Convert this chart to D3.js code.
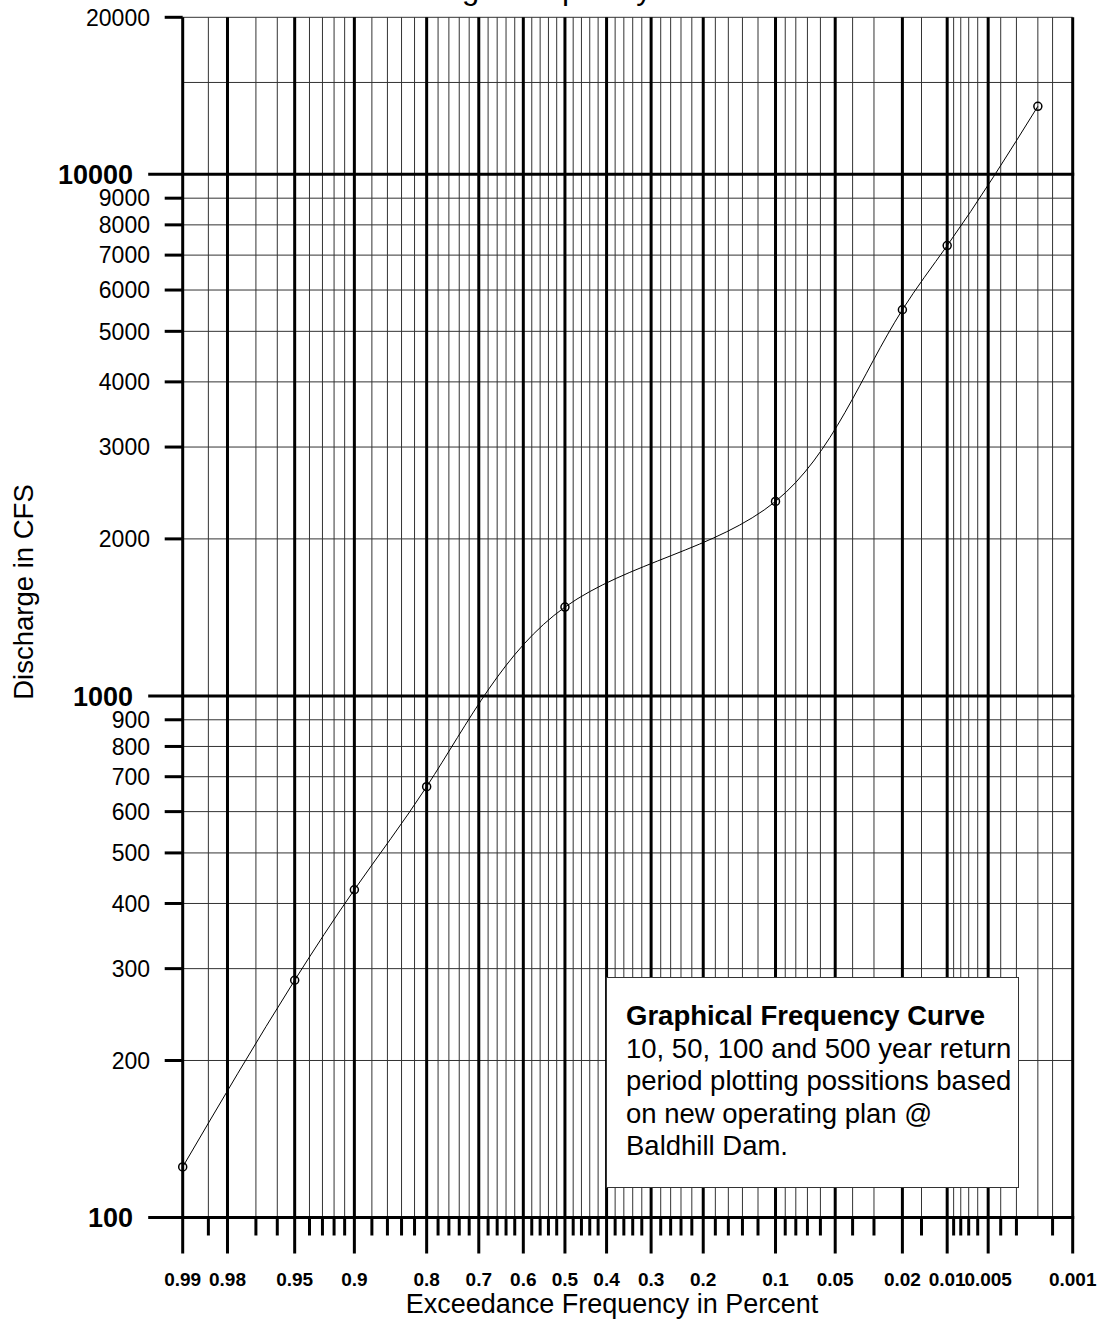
<!DOCTYPE html>
<html>
<head>
<meta charset="utf-8">
<script src="https://cdn.jsdelivr.net/npm/d3@7"></script>
<style>
  body { margin: 0; background: #fff; }
  svg { display: block; font-family: Arial, "Liberation Sans", sans-serif; }
</style>
</head>
<body>
<svg id="chart" width="1101" height="1319"></svg>
<script>
// Plotting positions (exceedance probability) and discharge (cfs)
const exceedance = [0.99, 0.95, 0.9, 0.8, 0.5, 0.1, 0.02, 0.01, 0.002];
const discharge  = [125, 285, 425, 670, 1480, 2360, 5500, 7300, 13500];

// Probability axis: labelled ticks, minor ticks, extra grid lines
const xMajorTicks = [0.99, 0.98, 0.95, 0.9, 0.8, 0.7, 0.6, 0.5, 0.4, 0.3, 0.2, 0.1, 0.05, 0.02, 0.01, 0.005, 0.001];
const xMajorLabels = ["0.99", "0.98", "0.95", "0.9", "0.8", "0.7", "0.6", "0.5", "0.4", "0.3", "0.2", "0.1", "0.05", "0.02", "0.01", "0.005", "0.001"];
const xMinorTicks = [0.985, 0.97, 0.96, 0.94, 0.93, 0.92, 0.91, 0.88, 0.86, 0.84, 0.82,
  0.78, 0.76, 0.74, 0.72, 0.68, 0.66, 0.64, 0.62, 0.58, 0.56, 0.54, 0.52,
  0.48, 0.46, 0.44, 0.42, 0.38, 0.36, 0.34, 0.32, 0.28, 0.26, 0.24, 0.22,
  0.18, 0.16, 0.14, 0.12, 0.09, 0.08, 0.07, 0.06, 0.04, 0.03, 0.015,
  0.009, 0.008, 0.007, 0.006, 0.004, 0.003, 0.0015];
const xExtraGrid = [0.002];

// Discharge axis
const yMajorTicks = [100, 1000, 10000];
const yMajorLabels = ["100", "1000", "10000"];
const yMinorTicks = [200, 300, 400, 500, 600, 700, 800, 900, 2000, 3000, 4000, 5000, 6000, 7000, 8000, 9000, 20000];
const yMinorLabels = ["200", "300", "400", "500", "600", "700", "800", "900", "2000", "3000", "4000", "5000", "6000", "7000", "8000", "9000", "20000"];
const yExtraGrid = [15000];

const titleText = "Discharge Frequency Curve";
const xTitle = "Exceedance Frequency in Percent";
const yTitle = "Discharge in CFS";
const noteTitle = "Graphical Frequency Curve";
const noteLines = ["10, 50, 100 and 500 year return", "period plotting possitions based", "on new operating plan @", "Baldhill Dam."];

// Inverse standard normal CDF (Acklam's rational approximation)
function probit(p) {
  const a = [-3.969683028665376e+01, 2.209460984245205e+02, -2.759285104469687e+02, 1.383577518672690e+02, -3.066479806614716e+01, 2.506628277459239e+00];
  const b = [-5.447609879822406e+01, 1.615858368580409e+02, -1.556989798598866e+02, 6.680131188771972e+01, -1.328068155288572e+01];
  const c = [-7.784894002430293e-03, -3.223964580411365e-01, -2.400758277161838e+00, -2.549732539343734e+00, 4.374664141464968e+00, 2.938163982698783e+00];
  const d = [7.784695709041462e-03, 3.224671290700398e-01, 2.445134137142996e+00, 3.754408661907416e+00];
  const pl = 0.02425, ph = 1 - pl;
  let q, r;
  if (p < pl) {
    q = Math.sqrt(-2 * Math.log(p));
    return (((((c[0]*q+c[1])*q+c[2])*q+c[3])*q+c[4])*q+c[5]) / ((((d[0]*q+d[1])*q+d[2])*q+d[3])*q+1);
  } else if (p <= ph) {
    q = p - 0.5; r = q * q;
    return (((((a[0]*r+a[1])*r+a[2])*r+a[3])*r+a[4])*r+a[5])*q / (((((b[0]*r+b[1])*r+b[2])*r+b[3])*r+b[4])*r+1);
  } else {
    q = Math.sqrt(-2 * Math.log(1 - p));
    return -(((((c[0]*q+c[1])*q+c[2])*q+c[3])*q+c[4])*q+c[5]) / ((((d[0]*q+d[1])*q+d[2])*q+d[3])*q+1);
  }
}

// Parametric natural cubic spline with chord-length knots, as a d3 curve factory
function naturalSecondDerivs(p, h) {
  const n = p.length, M = new Array(n).fill(0);
  if (n < 3) return M;
  const m = n - 2, cp = new Array(m), dp = new Array(m);
  for (let k = 0; k < m; k++) {
    const i = k + 1;
    const a = h[i - 1], b = 2 * (h[i - 1] + h[i]), c = h[i];
    const r = 6 * ((p[i + 1] - p[i]) / h[i] - (p[i] - p[i - 1]) / h[i - 1]);
    const den = k === 0 ? b : b - a * cp[k - 1];
    cp[k] = c / den;
    dp[k] = k === 0 ? r / den : (r - a * dp[k - 1]) / den;
  }
  M[m] = dp[m - 1];
  for (let k = m - 2; k >= 0; k--) M[k + 1] = dp[k] - cp[k] * M[k + 2];
  return M;
}

function ChordNatural(context) { this._context = context; }
ChordNatural.prototype = {
  areaStart() { this._line = 0; },
  areaEnd() { this._line = NaN; },
  lineStart() { this._x = []; this._y = []; },
  point(px, py) { this._x.push(+px); this._y.push(+py); },
  lineEnd() {
    const xs = this._x, ys = this._y, n = xs.length, ctx = this._context;
    if (!n) return;
    ctx.moveTo(xs[0], ys[0]);
    if (n === 2) { ctx.lineTo(xs[1], ys[1]); return; }
    const h = [];
    for (let i = 0; i < n - 1; i++) h.push(Math.hypot(xs[i + 1] - xs[i], ys[i + 1] - ys[i]) || 1e-6);
    const Mx = naturalSecondDerivs(xs, h), My = naturalSecondDerivs(ys, h);
    for (let i = 0; i < n - 1; i++) {
      const sx = (xs[i + 1] - xs[i]) / h[i], sy = (ys[i + 1] - ys[i]) / h[i];
      const d0x = sx - h[i] * (2 * Mx[i] + Mx[i + 1]) / 6, d0y = sy - h[i] * (2 * My[i] + My[i + 1]) / 6;
      const d1x = sx + h[i] * (Mx[i] + 2 * Mx[i + 1]) / 6, d1y = sy + h[i] * (My[i] + 2 * My[i + 1]) / 6;
      ctx.bezierCurveTo(
        xs[i] + d0x * h[i] / 3, ys[i] + d0y * h[i] / 3,
        xs[i + 1] - d1x * h[i] / 3, ys[i + 1] - d1y * h[i] / 3,
        xs[i + 1], ys[i + 1]);
    }
  }
};
const curveChordNatural = context => new ChordNatural(context);

const plotLeft = 182.7, plotRight = 1072.7, plotTop = 17.3, plotBottom = 1217.5;

// normal-probability scale: linear in the standard normal deviate of non-exceedance
const zScale = d3.scaleLinear().domain([probit(1 - 0.99), probit(1 - 0.001)]).range([plotLeft, plotRight]);
const x = p => zScale(probit(1 - p));
const y = d3.scaleLog().domain([100, 20000]).range([plotBottom, plotTop]);

const svg = d3.select("#chart");

// title (sits above the frame)
svg.append("text")
  .attr("x", 550).attr("y", -1)
  .attr("text-anchor", "middle")
  .attr("font-size", 31)
  .text(titleText);

const grid = svg.append("g");

// horizontal grid
grid.append("g").selectAll("line")
  .data(yMinorTicks.concat(yExtraGrid))
  .join("line")
  .attr("x1", plotLeft).attr("x2", plotRight)
  .attr("y1", d => y(d)).attr("y2", d => y(d))
  .attr("stroke", "#333").attr("stroke-width", 1);

// vertical grid
grid.append("g").selectAll("line")
  .data(xMinorTicks.concat(xExtraGrid))
  .join("line")
  .attr("x1", d => x(d)).attr("x2", d => x(d))
  .attr("y1", plotTop).attr("y2", plotBottom)
  .attr("stroke", "#333").attr("stroke-width", 1);

grid.append("g").selectAll("line")
  .data(xMajorTicks)
  .join("line")
  .attr("x1", d => x(d)).attr("x2", d => x(d))
  .attr("y1", plotTop).attr("y2", plotBottom + 36)
  .attr("stroke", "#000").attr("stroke-width", 3);

// bold decade lines with their outer ticks
grid.append("g").selectAll("line")
  .data(yMajorTicks)
  .join("line")
  .attr("x1", plotLeft - 34.5).attr("x2", plotRight + 1.5)
  .attr("y1", d => y(d)).attr("y2", d => y(d))
  .attr("stroke", "#000").attr("stroke-width", 3);

// minor outer ticks
svg.append("g").selectAll("line")
  .data(yMinorTicks)
  .join("line")
  .attr("x1", plotLeft - 18).attr("x2", plotLeft)
  .attr("y1", d => y(d)).attr("y2", d => y(d))
  .attr("stroke", "#000").attr("stroke-width", 3);

svg.append("g").selectAll("line")
  .data(xMinorTicks)
  .join("line")
  .attr("x1", d => x(d)).attr("x2", d => x(d))
  .attr("y1", plotBottom).attr("y2", plotBottom + 18)
  .attr("stroke", "#000").attr("stroke-width", 3);

// y tick labels
svg.append("g").selectAll("text")
  .data(yMinorTicks)
  .join("text")
  .attr("x", 150).attr("y", d => y(d))
  .attr("dy", "0.36em")
  .attr("text-anchor", "end")
  .attr("font-size", 23)
  .text((d, i) => yMinorLabels[i]);

svg.append("g").selectAll("text")
  .data(yMajorTicks)
  .join("text")
  .attr("x", 133).attr("y", d => y(d))
  .attr("dy", "0.36em")
  .attr("text-anchor", "end")
  .attr("font-size", 27)
  .attr("font-weight", "bold")
  .text((d, i) => yMajorLabels[i]);

// x tick labels
svg.append("g").selectAll("text")
  .data(xMajorTicks)
  .join("text")
  .attr("x", d => x(d)).attr("y", 1286)
  .attr("text-anchor", "middle")
  .attr("font-size", 19)
  .attr("font-weight", "bold")
  .text((d, i) => xMajorLabels[i]);

// axis titles
svg.append("text")
  .attr("x", 612).attr("y", 1312.5)
  .attr("text-anchor", "middle")
  .attr("font-size", 27)
  .text(xTitle);

svg.append("text")
  .attr("transform", "translate(33,592) rotate(-90)")
  .attr("text-anchor", "middle")
  .attr("font-size", 27.5)
  .text(yTitle);

// frequency curve through the plotting positions
const pts = exceedance.map((p, i) => [x(p), y(discharge[i])]);
svg.append("path")
  .attr("d", d3.line().curve(curveChordNatural)(pts))
  .attr("fill", "none")
  .attr("stroke", "#000")
  .attr("stroke-width", 1);

svg.append("g").selectAll("circle")
  .data(pts)
  .join("circle")
  .attr("cx", d => d[0]).attr("cy", d => d[1])
  .attr("r", 4)
  .attr("fill", "none")
  .attr("stroke", "#000")
  .attr("stroke-width", 1.5);

// note box
const note = svg.append("g");
note.append("rect")
  .attr("x", 606.5).attr("y", 977.5)
  .attr("width", 412).attr("height", 210)
  .attr("fill", "#fff")
  .attr("stroke", "#333").attr("stroke-width", 1);
note.append("text")
  .attr("x", 626).attr("y", 1025)
  .attr("font-size", 27.5)
  .attr("font-weight", "bold")
  .text(noteTitle);
note.selectAll("text.line")
  .data(noteLines)
  .join("text")
  .attr("x", 626).attr("y", (d, i) => 1058 + i * 32.3)
  .attr("font-size", 27.5)
  .text(d => d);
</script>
</body>
</html>
